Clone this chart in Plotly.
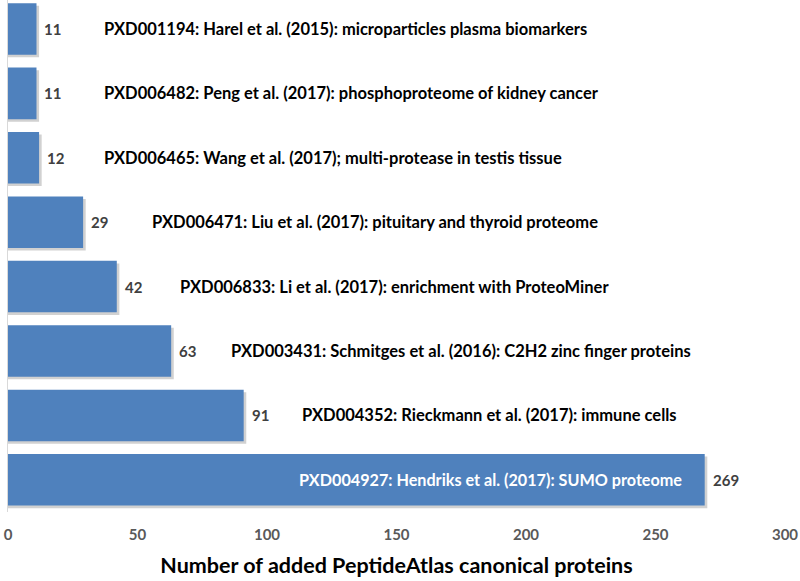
import plotly.graph_objects as go

datasets = [
    "PXD001194: Harel et al. (2015): microparticles plasma biomarkers",
    "PXD006482: Peng et al. (2017): phosphoproteome of kidney cancer",
    "PXD006465: Wang et al. (2017); multi-protease in testis tissue",
    "PXD006471: Liu et al. (2017): pituitary and thyroid proteome",
    "PXD006833: Li et al. (2017): enrichment with ProteoMiner",
    "PXD003431: Schmitges et al. (2016): C2H2 zinc finger proteins",
    "PXD004352: Rieckmann et al. (2017): immune cells",
    "PXD004927: Hendriks et al. (2017): SUMO proteome",
]
added_proteins = [11, 11, 12, 29, 42, 63, 91, 269]
x_ticks = [0, 50, 100, 150, 200, 250, 300]

FONT = "Lato"
BAR = "#4F81BD"
ypos = list(range(len(datasets)))

fig = go.Figure()
# drop shadow
fig.add_trace(go.Bar(
    y=ypos, x=[v + 1.0 for v in added_proteins], orientation="h",
    width=0.8, offset=-0.36, marker=dict(color="rgba(90,90,90,0.28)", line_width=0),
    hoverinfo="skip", showlegend=False))
fig.add_trace(go.Bar(
    y=ypos, x=added_proteins, orientation="h",
    width=0.8, offset=-0.4, marker=dict(color=BAR, line_width=0),
    showlegend=False))

# value labels
for i, v in enumerate(added_proteins):
    fig.add_annotation(x=v, y=i, text=str(v), xanchor="left", xshift=6,
                       showarrow=False,
                       font=dict(family=FONT, size=15, color="#404040", weight="bold"))

# dataset labels
label_shift = [66, 66, 63, 67, 61, 58, 56, None]
for i, (name, v) in enumerate(zip(datasets, added_proteins)):
    if label_shift[i] is None:
        fig.add_annotation(x=v, y=i, text=name, xanchor="right", xshift=-21,
                           showarrow=False,
                           font=dict(family=FONT, size=16.2, color="white", weight="bold"))
    else:
        fig.add_annotation(x=v, y=i, text=name, xanchor="left", xshift=label_shift[i],
                           showarrow=False,
                           font=dict(family=FONT, size=16.5, color="black", weight="bold"))

fig.update_layout(
    width=800, height=581,
    margin=dict(l=8, r=15, t=0, b=69),
    plot_bgcolor="white", paper_bgcolor="white",
    barmode="overlay",
    xaxis=dict(range=[0, 300], tickvals=x_ticks, showgrid=False, zeroline=False,
               showline=False, ticks="", automargin=False, ticklabelstandoff=12,
               tickfont=dict(family=FONT, size=15, color="#595959", weight="bold"),
               title=dict(text="Number of added PeptideAtlas canonical proteins",
                          font=dict(family=FONT, size=21.5, color="black", weight="bold"),
                          standoff=15)),
    yaxis=dict(range=[7.5, -0.45], showticklabels=False, showgrid=False,
               zeroline=False, showline=True, linecolor="#D9D9D9", linewidth=1,
               ticks="", automargin=False),
)

fig.write_html("out.html", config={"displayModeBar": False},
               post_script="document.body.style.margin='0';document.body.style.overflow='hidden';")
